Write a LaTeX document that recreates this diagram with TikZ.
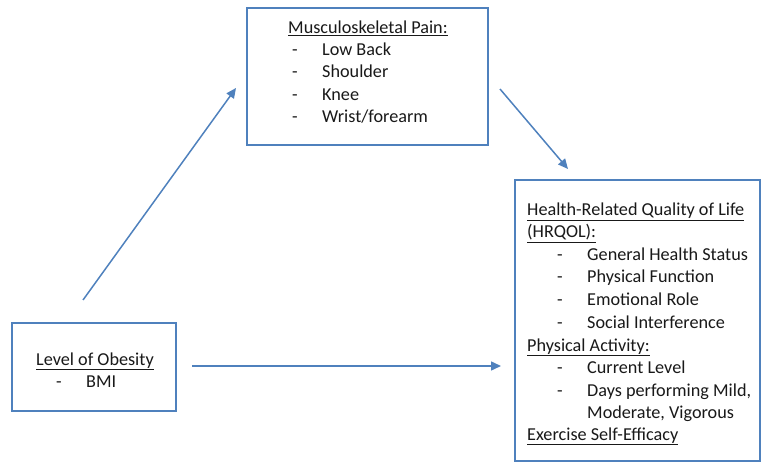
\documentclass[tikz,border=0pt]{standalone}
\usepackage{fontspec}
\setmainfont{Carlito}
\usetikzlibrary{arrows.meta}
\definecolor{oblue}{HTML}{4F81BD}
\tikzset{
  box/.style={draw=oblue, line width=2.4pt, fill=white},
  txt/.style={anchor=base west, inner sep=0pt, font=\fontsize{18.2}{22}\selectfont, text=black!90},
  conn/.style={draw=oblue, line width=1.5pt, -{Triangle[length=10pt,width=9pt]}},
}
\begin{document}
\begin{tikzpicture}[x=1pt,y=-1pt]
\useasboundingbox (0,0) rectangle (763,462);
% boxes
\draw[box] (247,8) rectangle (488,145);
\draw[box] (515,180) rectangle (760,461);
\draw[box] (12,323) rectangle (176,411);
% top box text
\node[txt] (t0) at (288,34) {\underline{Musculoskeletal Pain:}};
\node[txt] (t1d) at (292,56) {-};
\node[txt] (t1) at (322,56) {Low Back};
\node[txt] (t2d) at (292,78) {-};
\node[txt] (t2) at (322,78) {Shoulder};
\node[txt] (t3d) at (292,101) {-};
\node[txt] (t3) at (322,101) {Knee};
\node[txt] (t4d) at (292,123) {-};
\node[txt] (t4) at (322,123) {Wrist/forearm};
% right box text
\node[txt] (r0) at (527,216) {\underline{Health-Related Quality of Life}};
\node[txt] (r1) at (527,238) {\underline{(HRQOL):}};
\node[txt] (r2d) at (557,261) {-};
\node[txt] (r2) at (587,261) {General Health Status};
\node[txt] (r3d) at (557,283) {-};
\node[txt] (r3) at (587,283) {Physical Function};
\node[txt] (r4d) at (557,306) {-};
\node[txt] (r4) at (587,306) {Emotional Role};
\node[txt] (r5d) at (557,328) {-};
\node[txt] (r5) at (587,328) {Social Interference};
\node[txt] (r6) at (527,351) {\underline{Physical Activity:}};
\node[txt] (r7d) at (557,373) {-};
\node[txt] (r7) at (587,373) {Current Level};
\node[txt] (r8d) at (557,396) {-};
\node[txt] (r8) at (587,396) {Days performing Mild,};
\node[txt] (r9) at (587,418) {Moderate, Vigorous};
\node[txt] (r10) at (527,440) {\underline{Exercise Self-Efficacy}};
% left box text
\node[txt] (l0) at (36,365) {\underline{Level of Obesity}};
\node[txt] (l1d) at (56,387) {-};
\node[txt] (l1) at (86,387) {BMI};
% connector end points
\coordinate (a1s) at (83,300);
\coordinate (a1e) at (236,88);
\coordinate (a2s) at (500,89);
\coordinate (a2e) at (568,169);
\coordinate (a3s) at (192,366);
\coordinate (a3e) at (501,366);
\draw[conn] (a1s) -- (a1e);
\draw[conn] (a2s) -- (a2e);
\draw[conn] (a3s) -- (a3e);
\end{tikzpicture}
\end{document}
